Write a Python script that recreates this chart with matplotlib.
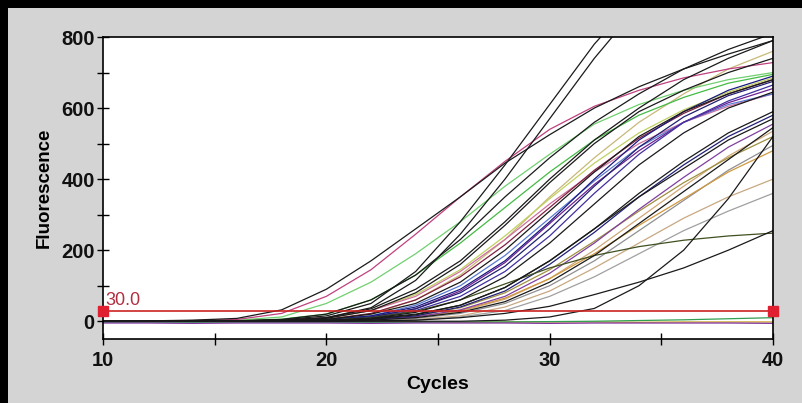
import matplotlib
matplotlib.use('Agg')
import matplotlib.pyplot as plt
from matplotlib.ticker import MultipleLocator
from matplotlib.patches import Rectangle

plt.rcParams['font.family'] = ['Liberation Sans', 'DejaVu Sans']

# amplification curves, values every 2 cycles
cycles = [10, 12, 14, 16, 18, 20, 22, 24, 26, 28, 30, 32, 34, 36, 38, 40]

e1 = [0, 1, 3, 8, 32, 90, 170, 260, 350, 445, 525, 600, 660, 710, 752, 790]
m1 = [0, 0, 2, 5, 22, 70, 145, 245, 350, 450, 540, 605, 650, 685, 710, 728]
m2 = [0, 0, 0, 1, 3, 10, 30, 70, 140, 230, 330, 420, 500, 560, 605, 640]
s1 = [0, 0, 0, 1, 4, 15, 50, 140, 280, 440, 610, 780, 920, 1000, 1050, 1080]
s2 = [0, 0, 0, 0, 2, 10, 38, 115, 245, 400, 570, 740, 890, 980, 1030, 1060]
t1 = [0, 0, 0, 1, 5, 20, 60, 130, 230, 350, 460, 560, 640, 710, 765, 810]
t2 = [0, 0, 0, 1, 3, 10, 35, 90, 170, 280, 400, 510, 600, 680, 740, 790]
t3 = [0, 0, 0, 0, 2, 5, 20, 60, 130, 230, 350, 460, 560, 640, 710, 760]
g1 = [0, 0, 1, 3, 12, 50, 110, 190, 280, 380, 470, 555, 610, 650, 680, 700]
g2 = [0, 0, 0, 1, 6, 20, 60, 130, 220, 320, 420, 510, 580, 630, 670, 695]
b1 = [0, 0, 0, 0, 1, 5, 15, 40, 90, 170, 280, 400, 510, 590, 650, 690]
b2 = [0, 0, 0, 0, 1, 3, 12, 35, 80, 155, 260, 380, 490, 575, 635, 675]
b3 = [0, 0, 0, 0, 0, 2, 10, 30, 70, 140, 240, 360, 470, 560, 620, 665]
b4 = [0, 0, 0, 0, 1, 5, 20, 50, 110, 200, 310, 420, 520, 590, 640, 680]
b5 = [0, 0, 0, 0, 1, 3, 12, 35, 85, 165, 275, 385, 480, 560, 615, 655]
b6 = [0, 0, 0, 0, 0, 2, 8, 25, 60, 125, 220, 330, 440, 530, 600, 645]
b7 = [0, 0, 0, 0, 1, 4, 15, 45, 100, 185, 290, 395, 490, 560, 610, 640]
c1 = [0, 0, 0, 0, 0, 2, 8, 20, 45, 95, 170, 260, 360, 450, 530, 590]
c2 = [0, 0, 0, 0, 0, 1, 5, 15, 40, 85, 160, 250, 350, 440, 520, 580]
c3 = [0, 0, 0, 0, 0, 2, 6, 18, 45, 95, 170, 260, 350, 430, 510, 570]
c4 = [0, 0, 0, 0, 0, 1, 4, 12, 32, 70, 135, 220, 315, 405, 490, 555]
c5 = [0, 0, 0, 0, 0, 1, 3, 10, 28, 62, 120, 200, 290, 380, 465, 535]
c6 = [0, 0, 0, 0, 0, 2, 5, 15, 38, 80, 145, 225, 310, 390, 460, 520]
c7 = [0, 0, 0, 0, 0, 0, 2, 8, 22, 50, 100, 170, 255, 340, 425, 495]
c8 = [0, 0, 0, 0, 0, 1, 4, 12, 30, 65, 120, 190, 270, 345, 420, 480]
c9 = [0, 0, 0, 0, 0, 1, 3, 10, 25, 55, 110, 185, 275, 365, 455, 545]
d1 = [0, 0, 0, 0, 0, 0, 1, 5, 15, 40, 85, 150, 220, 290, 350, 400]
d2 = [0, 0, 0, 0, 0, 0, 1, 3, 12, 30, 70, 125, 190, 255, 310, 360]
p1 = [0, 0, 0, 0, 1, 3, 10, 28, 60, 105, 150, 185, 210, 228, 240, 248]
l1 = [0, 0, 0, 0, 0, 0, 1, 3, 10, 22, 42, 75, 110, 150, 200, 255]
l2 = [0, 0, 0, 0, 0, 0, 0, 0, 0, 3, 12, 36, 100, 200, 345, 520]
x1 = [0, 0, 0, 1, 3, 8, 30, 80, 160, 270, 390, 500, 590, 650, 700, 740]
x2 = [0, 0, 0, 0, 1, 5, 22, 60, 125, 215, 320, 425, 515, 585, 640, 680]
x3 = [0, 0, 0, 1, 3, 8, 30, 75, 145, 240, 345, 445, 530, 595, 645, 685]
base_y = [-2, -2, -3, -2, -2, -3, -2, -2, -3, -2, -2, -2, -3, -2, -2, -2]
base_g = [-3, -3, -3, -3, -3, -3, -3, -3, -2, -2, -1, 0, 2, 4, 7, 10]
base_p = [-5, -5, -6, -5, -5, -5, -6, -5, -5, -5, -6, -5, -5, -5, -5, -6]

threshold = 30.0

BLACK = '#1a1a1a'
curves = [
    (base_y, '#c8a020'), (base_g, '#30a050'), (base_p, '#8030a0'),
    (d1, '#c8a882'), (d2, '#a0a0a0'), (c5, '#d0a878'), (c6, '#a09040'),
    (c7, '#909090'), (c8, '#d09840'), (t3, '#c8b878'), (x3, '#c0d060'),
    (g1, '#70d070'), (g2, '#44bb44'), (m1, '#c04080'), (m2, '#d070a0'),
    (b7, '#5a7ad0'), (c4, '#8040a0'), (b5, '#702090'), (b3, '#4030a0'),
    (x2, '#802040'), (b1, '#1a1a80'), (b2, '#202070'), (c2, '#202078'),
    (p1, '#405020'), (e1, BLACK), (s1, BLACK), (s2, BLACK), (t1, BLACK),
    (t2, BLACK), (b4, BLACK), (b6, BLACK), (c1, BLACK), (c3, BLACK),
    (c9, BLACK), (l1, BLACK), (l2, BLACK), (x1, BLACK),
]

fig = plt.figure(figsize=(8.03, 4.03), dpi=100, facecolor='#d4d4d4')
ax = fig.add_axes([103/803, 64/403, 670/803, 302/403])
ax.set_facecolor('white')

for vals, col in curves:
    ax.plot(cycles, vals, color=col, lw=0.9)

# threshold line with its end handles
ax.plot([10, 40], [threshold, threshold], color='#cc2222', lw=1.2, zorder=5)
ax.plot([10, 40], [threshold, threshold], ls='none', marker='s', ms=7,
        color='#e02030', clip_on=False, zorder=6)
ax.text(10.1, 45, '%.1f' % threshold, color='#b03040', fontsize=13, zorder=6)

ax.set_xlim(10, 40)
ax.set_ylim(-50, 800)
ax.xaxis.set_major_locator(MultipleLocator(10))
ax.xaxis.set_minor_locator(MultipleLocator(5))
ax.yaxis.set_major_locator(MultipleLocator(200))
ax.yaxis.set_minor_locator(MultipleLocator(100))
ax.tick_params(which='both', direction='inout', length=8, width=1, colors='black')
ax.tick_params(axis='x', pad=5)
ax.tick_params(axis='y', pad=2)
for lab in ax.get_xticklabels() + ax.get_yticklabels():
    lab.set_fontweight('bold')
    lab.set_fontsize(14.5)
    lab.set_color('#111111')
for sp in ax.spines.values():
    sp.set_linewidth(1.2)

ax.set_xlabel('Cycles', fontsize=14, fontweight='bold', labelpad=4)
ax.set_ylabel('Fluorescence', fontsize=13.5, fontweight='bold', labelpad=6)

# black frame strips at top and left of the screenshot
fig.add_artist(Rectangle((0, 1 - 8/403), 1, 8/403, transform=fig.transFigure,
                         color='black', lw=0))
fig.add_artist(Rectangle((0, 0), 8/803, 1, transform=fig.transFigure,
                         color='black', lw=0))

plt.savefig('out.png', dpi=100, facecolor=fig.get_facecolor())
